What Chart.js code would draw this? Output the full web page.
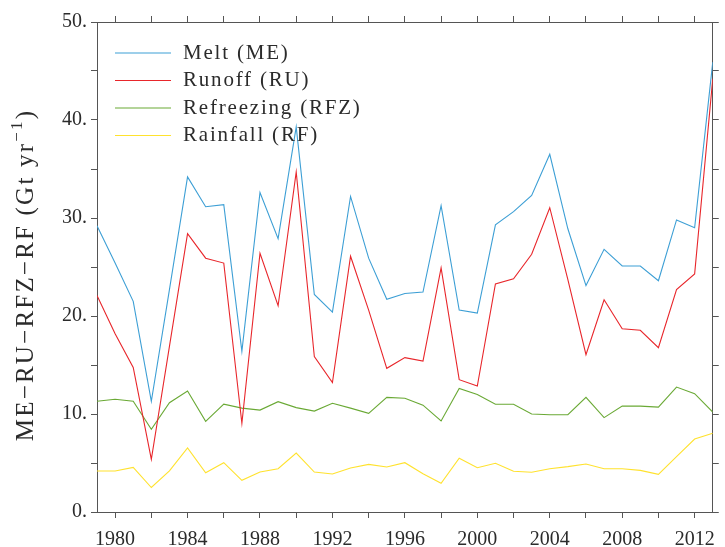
<!DOCTYPE html>
<html>
<head>
<meta charset="utf-8">
<script src="https://cdn.jsdelivr.net/npm/chart.js@4/dist/chart.umd.min.js"></script>
<style>
  html, body { margin: 0; padding: 0; background: #fff; }
</style>
</head>
<body>
<canvas id="chart" width="725" height="547"></canvas>
<script>
// years on the x axis
const years = [1979, 1980, 1981, 1982, 1983, 1984, 1985, 1986, 1987, 1988, 1989, 1990,
  1991, 1992, 1993, 1994, 1995, 1996, 1997, 1998, 1999, 2000, 2001, 2002, 2003, 2004,
  2005, 2006, 2007, 2008, 2009, 2010, 2011, 2012, 2013];

// Gt/yr
const melt = [29.2, 25.4, 21.5, 11.3, 22.7, 34.2, 31.15, 31.36, 16.4, 32.6, 27.9, 39.3,
  22.2, 20.4, 32.2, 25.9, 21.7, 22.3, 22.45, 31.25, 20.6, 20.3, 29.3, 30.65, 32.3, 36.5,
  28.9, 23.1, 26.8, 25.1, 25.1, 23.6, 29.8, 29.0, 45.9];
const runoff = [22.1, 18.2, 14.75, 5.37, 16.9, 28.4, 25.9, 25.4, 9.05, 26.4, 21.05, 34.7,
  15.85, 13.2, 26.1, 20.6, 14.66, 15.75, 15.4, 24.9, 13.5, 12.86, 23.27, 23.8, 26.3, 31.05,
  23.7, 16.05, 21.66, 18.7, 18.54, 16.77, 22.7, 24.3, 44.2];
const refreezing = [11.3, 11.5, 11.3, 8.44, 11.15, 12.35, 9.25, 11.0, 10.6, 10.4, 11.26, 10.65,
  10.3, 11.1, 10.6, 10.07, 11.7, 11.6, 10.9, 9.29, 12.6, 12.0, 11.0, 11.0, 10.0, 9.93,
  9.93, 11.7, 9.63, 10.8, 10.8, 10.7, 12.75, 12.07, 10.2];
const rainfall = [4.18, 4.18, 4.55, 2.5, 4.2, 6.53, 4.0, 5.03, 3.23, 4.08, 4.42, 6.02,
  4.08, 3.88, 4.49, 4.86, 4.59, 5.03, 3.91, 2.93, 5.48, 4.52, 4.97, 4.15, 4.05, 4.42,
  4.63, 4.9, 4.42, 4.42, 4.25, 3.84, 5.65, 7.45, 8.03];

const seriesNames = ["Melt (ME)", "Runoff (RU)", "Refreezing (RFZ)", "Rainfall (RF)"];
const seriesColors = ["#3d9fd5", "#e8262b", "#6aa935", "#ffe22e"];

// tick marks every 2 years, labels every 4
const xTicks = [1980, 1982, 1984, 1986, 1988, 1990, 1992, 1994, 1996, 1998, 2000, 2002,
  2004, 2006, 2008, 2010, 2012];

const FONT = "'Liberation Serif', 'Times New Roman', serif";
const TXT = "#2b2b2b";
const AX = "#555";

function pts(vals) {
  return vals.map((v, i) => ({ x: years[i], y: v }));
}

//legend in the upper left + rotated y title
const decorPlugin = {
  id: "decor",
  afterDraw(chart) {
    const ctx = chart.ctx;
    ctx.save();
    ctx.font = "21px " + FONT;
    ctx.letterSpacing = "1.8px";
    ctx.fillStyle = TXT;
    ctx.textBaseline = "alphabetic";
    chart.data.datasets.forEach((ds, i) => {
      const y = 53 + i * 27.5;
      ctx.strokeStyle = ds.borderColor;
      ctx.lineWidth = 1.2;
      ctx.beginPath();
      ctx.moveTo(115, y);
      ctx.lineTo(171, y);
      ctx.stroke();
      ctx.fillText(ds.label, 183, y + 5.5);
    });
    ctx.restore();

    // y axis title with superscript
    ctx.save();
    ctx.translate(33, 275);
    ctx.rotate(-Math.PI / 2);
    ctx.fillStyle = TXT;
    ctx.letterSpacing = "2.2px";
    ctx.textBaseline = "alphabetic";
    const main = "ME\u2212RU\u2212RFZ\u2212RF (Gt yr";
    const sup = "\u22121";
    const close = ")";
    ctx.font = "25px " + FONT;
    const w1 = ctx.measureText(main).width;
    const w3 = ctx.measureText(close).width;
    ctx.font = "17px " + FONT;
    const w2 = ctx.measureText(sup).width;
    let x = -(w1 + w2 + w3) / 2;
    ctx.font = "25px " + FONT;
    ctx.fillText(main, x, 0);
    x += w1;
    ctx.font = "17px " + FONT;
    ctx.fillText(sup, x, -11);
    x += w2;
    ctx.font = "25px " + FONT;
    ctx.fillText(close, x, 0);
    ctx.restore();
  },
};

const axisGrid = { display: true, drawOnChartArea: false, drawTicks: true, tickLength: 6, color: AX, lineWidth: 1 };
const axisBorder = { display: true, color: AX, width: 1 };

new Chart(document.getElementById("chart"), {
  type: "line",
  plugins: [decorPlugin],
  data: {
    datasets: [
      { label: seriesNames[0], data: pts(melt), borderColor: seriesColors[0] },
      { label: seriesNames[1], data: pts(runoff), borderColor: seriesColors[1] },
      { label: seriesNames[2], data: pts(refreezing), borderColor: seriesColors[2] },
      { label: seriesNames[3], data: pts(rainfall), borderColor: seriesColors[3] },
    ].map(d => Object.assign(d, { borderWidth: 1.1, pointRadius: 0, tension: 0, fill: false })),
  },
  options: {
    responsive: false,
    devicePixelRatio: 1,
    animation: false,
    layout: { padding: 0 },
    plugins: { legend: { display: false }, tooltip: { enabled: false } },
    scales: {
      x: {
        type: "linear", position: "bottom", min: 1979, max: 2013,
        grid: axisGrid, border: axisBorder,
        afterBuildTicks: s => { s.ticks = xTicks.map(v => ({ value: v })); },
        afterFit: s => { s.height = 35; },
        ticks: {
          autoSkip: false, maxRotation: 0, padding: 10, color: TXT,
          font: { family: FONT, size: 20 },
          callback: v => (v % 4 === 0 ? String(v) : ""),
        },
      },
      xTop: {
        type: "linear", position: "top", min: 1979, max: 2013,
        grid: axisGrid, border: axisBorder,
        afterBuildTicks: s => { s.ticks = xTicks.map(v => ({ value: v })); },
        afterFit: s => { s.height = 22; },
        ticks: { display: false },
      },
      y: {
        type: "linear", position: "left", min: 0, max: 50,
        grid: axisGrid, border: axisBorder,
        afterFit: s => { s.width = 97; },
        ticks: {
          stepSize: 5, padding: 4, color: TXT,
          font: { family: FONT, size: 20 },
          callback: v => (v % 10 === 0 ? v + "." : ""),
        },
      },
      yRight: {
        type: "linear", position: "right", min: 0, max: 50,
        grid: axisGrid, border: axisBorder,
        afterFit: s => { s.width = 5; },
        ticks: { display: false, stepSize: 5 },
      },
    },
  },
});
</script>
</body>
</html>
